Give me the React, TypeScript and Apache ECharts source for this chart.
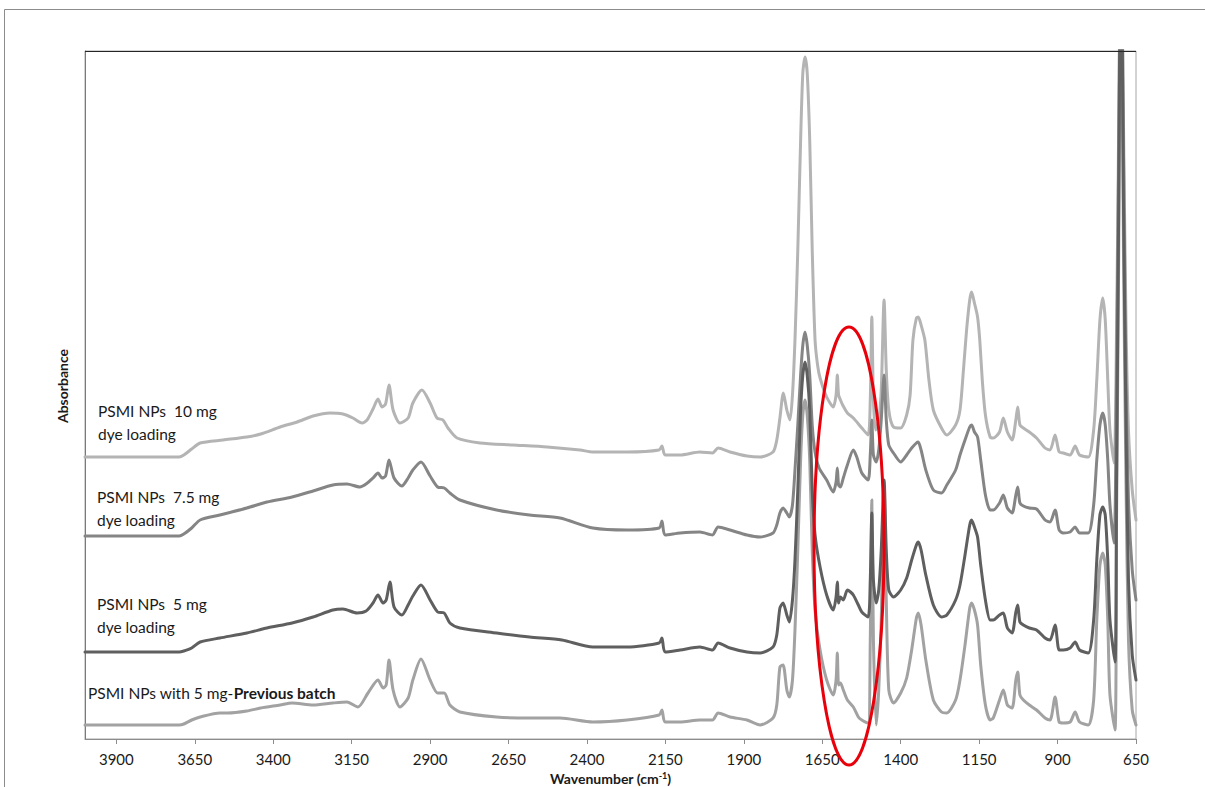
import React, { useEffect, useRef } from "react";
import * as echarts from "echarts";

// Wavenumber tick labels (cm-1)
const wavenumberTicks = [3900, 3650, 3400, 3150, 2900, 2650, 2400, 2150, 1900, 1650, 1400, 1150, 900, 650];

// [wavenumber (cm-1), absorbance (offset, a.u.)]
const psmi10mg: [number, number][] = [
  [4000, 0.564], [3900, 0.564], [3800, 0.564], [3700, 0.564], [3685, 0.568], [3660, 0.58], [3633, 0.592], [3560, 0.598], [3484, 0.604], [3440, 0.61],
  [3378, 0.624], [3324, 0.634], [3273, 0.646], [3219, 0.652], [3178, 0.65], [3146, 0.642], [3117, 0.632], [3101, 0.638], [3082, 0.66], [3066, 0.68],
  [3053, 0.664], [3042, 0.67], [3031, 0.708], [3018, 0.658], [2996, 0.632], [2970, 0.642], [2955, 0.672], [2926, 0.698], [2900, 0.672], [2878, 0.642],
  [2859, 0.638], [2843, 0.622], [2814, 0.602], [2741, 0.592], [2636, 0.588], [2527, 0.584], [2422, 0.578], [2381, 0.574], [2272, 0.574], [2170, 0.578],
  [2161, 0.586], [2151, 0.568], [2103, 0.568], [2040, 0.574], [2000, 0.572], [1982, 0.582], [1944, 0.574], [1890, 0.566], [1848, 0.564], [1807, 0.574],
  [1795, 0.598], [1785, 0.642], [1774, 0.692], [1763, 0.658], [1753, 0.638], [1745, 0.688], [1737, 0.798], [1728, 0.978], [1719, 1.198], [1712, 1.332],
  [1705, 1.364], [1698, 1.332], [1690, 1.198], [1682, 0.978], [1673, 0.798], [1665, 0.748], [1657, 0.722], [1636, 0.684], [1615, 0.664], [1606, 0.688],
  [1602, 0.728], [1598, 0.688], [1592, 0.678], [1585, 0.668], [1570, 0.652], [1551, 0.642], [1524, 0.622], [1504, 0.608], [1497, 0.678], [1492, 0.844],
  [1487, 0.678], [1480, 0.618], [1470, 0.638], [1462, 0.698], [1453, 0.878], [1446, 0.738], [1438, 0.658], [1423, 0.624], [1400, 0.622], [1381, 0.648],
  [1370, 0.688], [1361, 0.798], [1350, 0.842], [1344, 0.844], [1335, 0.828], [1323, 0.798], [1310, 0.718], [1296, 0.658], [1270, 0.622], [1253, 0.608],
  [1225, 0.628], [1211, 0.658], [1200, 0.738], [1190, 0.818], [1180, 0.878], [1174, 0.894], [1165, 0.872], [1155, 0.844], [1148, 0.798], [1140, 0.718],
  [1130, 0.648], [1115, 0.604], [1105, 0.602], [1085, 0.614], [1073, 0.642], [1060, 0.614], [1045, 0.598], [1033, 0.638], [1027, 0.664], [1020, 0.628],
  [1009, 0.622], [990, 0.614], [967, 0.602], [940, 0.582], [924, 0.578], [908, 0.608], [895, 0.574], [882, 0.572], [860, 0.568], [844, 0.586],
  [830, 0.568], [802, 0.564], [785, 0.618], [775, 0.718], [765, 0.838], [756, 0.882], [748, 0.838], [740, 0.718], [733, 0.618], [720, 0.552],
  [712, 0.818], [705, 1.238], [698, 1.678], [690, 1.238], [682, 0.838], [674, 0.618], [662, 0.498], [650, 0.438],
];

const psmi75mg: [number, number][] = [
  [4000, 0.406], [3900, 0.406], [3800, 0.406], [3700, 0.406], [3685, 0.41], [3660, 0.422], [3633, 0.438], [3570, 0.448], [3484, 0.462], [3420, 0.474],
  [3340, 0.484], [3273, 0.496], [3210, 0.508], [3165, 0.51], [3124, 0.504], [3100, 0.512], [3082, 0.522], [3066, 0.532], [3053, 0.522], [3042, 0.526],
  [3031, 0.558], [3015, 0.522], [2990, 0.506], [2970, 0.522], [2955, 0.538], [2929, 0.554], [2900, 0.526], [2876, 0.504], [2855, 0.502], [2837, 0.492],
  [2805, 0.478], [2688, 0.458], [2583, 0.448], [2486, 0.442], [2381, 0.422], [2272, 0.418], [2170, 0.422], [2161, 0.436], [2151, 0.408], [2103, 0.412],
  [2040, 0.414], [2000, 0.408], [1982, 0.424], [1944, 0.418], [1890, 0.408], [1848, 0.404], [1807, 0.412], [1795, 0.428], [1785, 0.452], [1775, 0.462],
  [1763, 0.452], [1755, 0.444], [1745, 0.468], [1737, 0.538], [1728, 0.628], [1719, 0.728], [1712, 0.788], [1705, 0.814], [1698, 0.788], [1690, 0.728],
  [1682, 0.628], [1673, 0.574], [1660, 0.542], [1636, 0.518], [1615, 0.494], [1606, 0.514], [1602, 0.542], [1598, 0.508], [1592, 0.504], [1583, 0.522],
  [1570, 0.548], [1551, 0.578], [1540, 0.564], [1524, 0.532], [1504, 0.518], [1497, 0.568], [1492, 0.638], [1487, 0.568], [1478, 0.554], [1470, 0.578],
  [1462, 0.638], [1453, 0.728], [1446, 0.638], [1438, 0.588], [1423, 0.572], [1400, 0.554], [1381, 0.568], [1365, 0.582], [1350, 0.592], [1344, 0.594],
  [1335, 0.578], [1320, 0.538], [1296, 0.498], [1270, 0.492], [1253, 0.508], [1225, 0.538], [1211, 0.568], [1195, 0.598], [1180, 0.624], [1174, 0.628],
  [1165, 0.614], [1155, 0.604], [1145, 0.558], [1130, 0.488], [1115, 0.458], [1105, 0.458], [1085, 0.472], [1073, 0.488], [1060, 0.462], [1045, 0.452],
  [1033, 0.488], [1027, 0.504], [1020, 0.472], [1009, 0.466], [990, 0.462], [967, 0.46], [940, 0.438], [924, 0.434], [908, 0.458], [895, 0.418],
  [882, 0.412], [860, 0.414], [844, 0.424], [830, 0.412], [802, 0.412], [785, 0.468], [775, 0.558], [765, 0.628], [756, 0.652], [748, 0.628],
  [740, 0.558], [733, 0.468], [720, 0.392], [712, 0.718], [705, 1.178], [698, 1.678], [690, 1.178], [682, 0.718], [674, 0.478], [662, 0.338],
  [650, 0.278],
];

const psmi5mg: [number, number][] = [
  [4000, 0.174], [3900, 0.174], [3800, 0.174], [3700, 0.174], [3685, 0.176], [3660, 0.182], [3633, 0.194], [3570, 0.202], [3484, 0.212], [3420, 0.222],
  [3340, 0.232], [3273, 0.244], [3210, 0.258], [3178, 0.26], [3133, 0.252], [3104, 0.256], [3082, 0.272], [3066, 0.288], [3050, 0.272], [3040, 0.278],
  [3028, 0.314], [3015, 0.264], [2990, 0.248], [2970, 0.268], [2955, 0.286], [2929, 0.308], [2900, 0.278], [2876, 0.254], [2855, 0.252], [2837, 0.232],
  [2805, 0.222], [2688, 0.212], [2583, 0.204], [2480, 0.198], [2381, 0.184], [2272, 0.184], [2170, 0.192], [2161, 0.202], [2151, 0.174], [2103, 0.178],
  [2040, 0.184], [2000, 0.178], [1982, 0.192], [1944, 0.182], [1890, 0.174], [1848, 0.172], [1807, 0.184], [1795, 0.208], [1785, 0.262], [1775, 0.272],
  [1763, 0.248], [1755, 0.234], [1745, 0.278], [1737, 0.358], [1728, 0.498], [1719, 0.658], [1712, 0.728], [1705, 0.754], [1698, 0.728], [1690, 0.658],
  [1682, 0.498], [1673, 0.408], [1657, 0.344], [1636, 0.288], [1615, 0.258], [1606, 0.284], [1602, 0.314], [1598, 0.272], [1592, 0.284], [1583, 0.278],
  [1570, 0.298], [1560, 0.294], [1551, 0.288], [1535, 0.268], [1524, 0.254], [1504, 0.244], [1497, 0.318], [1492, 0.452], [1487, 0.318], [1478, 0.272],
  [1470, 0.298], [1462, 0.378], [1453, 0.518], [1446, 0.378], [1438, 0.298], [1423, 0.284], [1400, 0.298], [1381, 0.322], [1365, 0.358], [1350, 0.388],
  [1344, 0.394], [1335, 0.378], [1320, 0.328], [1296, 0.268], [1270, 0.244], [1253, 0.248], [1225, 0.278], [1211, 0.308], [1195, 0.368], [1180, 0.428],
  [1174, 0.438], [1165, 0.424], [1155, 0.404], [1145, 0.348], [1130, 0.278], [1115, 0.238], [1105, 0.238], [1085, 0.248], [1073, 0.252], [1060, 0.222],
  [1045, 0.212], [1033, 0.254], [1027, 0.268], [1020, 0.234], [1009, 0.228], [990, 0.222], [967, 0.218], [940, 0.202], [924, 0.198], [908, 0.228],
  [895, 0.178], [882, 0.178], [860, 0.182], [844, 0.194], [830, 0.178], [802, 0.172], [785, 0.238], [775, 0.358], [765, 0.448], [756, 0.464],
  [748, 0.448], [740, 0.358], [733, 0.238], [717, 0.154], [712, 0.518], [705, 1.078], [698, 1.678], [690, 1.078], [682, 0.638], [674, 0.318],
  [662, 0.168], [650, 0.118],
];

const psmiPrevious: [number, number][] = [
  [4000, 0.028], [3900, 0.028], [3800, 0.028], [3700, 0.028], [3685, 0.03], [3660, 0.038], [3633, 0.044], [3570, 0.052], [3545, 0.052], [3484, 0.056],
  [3440, 0.062], [3378, 0.068], [3340, 0.072], [3273, 0.068], [3210, 0.072], [3165, 0.074], [3130, 0.064], [3098, 0.092], [3066, 0.118], [3050, 0.102],
  [3040, 0.108], [3031, 0.158], [3018, 0.098], [2996, 0.064], [2970, 0.082], [2955, 0.118], [2929, 0.16], [2900, 0.118], [2876, 0.092], [2855, 0.092],
  [2837, 0.068], [2805, 0.054], [2688, 0.044], [2583, 0.042], [2486, 0.042], [2381, 0.034], [2272, 0.038], [2170, 0.048], [2161, 0.058], [2151, 0.034],
  [2103, 0.034], [2040, 0.038], [2000, 0.038], [1982, 0.052], [1944, 0.044], [1890, 0.038], [1848, 0.028], [1807, 0.042], [1795, 0.068], [1785, 0.144],
  [1775, 0.148], [1763, 0.098], [1755, 0.084], [1745, 0.118], [1737, 0.218], [1728, 0.378], [1719, 0.558], [1712, 0.648], [1705, 0.678], [1698, 0.648],
  [1690, 0.558], [1682, 0.378], [1673, 0.258], [1657, 0.178], [1636, 0.118], [1615, 0.088], [1606, 0.118], [1602, 0.172], [1598, 0.108], [1592, 0.112],
  [1583, 0.098], [1570, 0.078], [1551, 0.064], [1535, 0.044], [1524, 0.038], [1504, 0.032], [1497, 0.198], [1492, 0.478], [1487, 0.198], [1478, 0.028],
  [1470, 0.098], [1462, 0.238], [1453, 0.508], [1446, 0.278], [1438, 0.098], [1423, 0.072], [1400, 0.092], [1381, 0.122], [1365, 0.178], [1350, 0.242],
  [1344, 0.252], [1335, 0.228], [1320, 0.158], [1296, 0.078], [1270, 0.054], [1253, 0.052], [1225, 0.078], [1211, 0.118], [1195, 0.188], [1180, 0.262],
  [1174, 0.272], [1165, 0.258], [1155, 0.228], [1145, 0.148], [1130, 0.068], [1115, 0.038], [1105, 0.042], [1085, 0.078], [1073, 0.098], [1060, 0.068],
  [1045, 0.062], [1033, 0.118], [1027, 0.134], [1020, 0.088], [1009, 0.078], [990, 0.068], [967, 0.058], [940, 0.042], [924, 0.038], [908, 0.084],
  [895, 0.034], [882, 0.032], [860, 0.034], [844, 0.054], [830, 0.034], [802, 0.028], [785, 0.078], [775, 0.238], [765, 0.348], [756, 0.372],
  [748, 0.348], [740, 0.238], [733, 0.088], [717, 0.018], [712, 0.438], [705, 0.978], [698, 1.678], [690, 0.978], [682, 0.518], [674, 0.198],
  [662, 0.058], [650, 0.028],
];

const FONT = 'Lato, "Open Sans", "Liberation Sans", sans-serif';

export default function App() {
  const ref = useRef<HTMLDivElement>(null);

  useEffect(() => {
    document.body.style.margin = "0";
    const chart = echarts.init(ref.current as HTMLDivElement, null, { renderer: "svg" });

    const line = (name: string, data: [number, number][], color: string, z: number) => ({
      name,
      type: "line",
      data,
      showSymbol: false,
      symbol: "none",
      clip: true,
      smooth: 0.25,
      z,
      lineStyle: { color, width: 3, join: "round", cap: "round" },
      emphasis: { disabled: true },
    });

    const label = (text: string, x: number, y: number) => ({
      type: "text",
      x,
      y,
      z: 50,
      style: { text, font: `15.5px ${FONT}`, fill: "#1a1a1a", align: "left", verticalAlign: "middle" },
    });

    chart.setOption({
      animation: false,
      backgroundColor: "#ffffff",
      grid: {
        left: 85,
        right: 69,
        top: 51,
        bottom: 48,
        show: true,
        borderColor: "#a6a6a6",
        borderWidth: 1,
        containLabel: false,
        outerBoundsMode: "none",
      },
      xAxis: {
        type: "value",
        min: 650,
        max: 4000,
        inverse: true,
        name: "{a|Wavenumber (cm}{s|-1}{a|)}",
        nameLocation: "middle",
        nameGap: 26,
        nameTextStyle: {
          rich: {
            a: { fontFamily: FONT, fontWeight: "bold", fontSize: 14, color: "#1a1a1a", lineHeight: 15, verticalAlign: "bottom" },
            s: { fontFamily: FONT, fontWeight: "bold", fontSize: 9, color: "#1a1a1a", lineHeight: 15, verticalAlign: "top" },
          },
        },
        axisLine: { show: true, lineStyle: { color: "#8c8c8c", width: 1 } },
        axisTick: { show: true, length: 5, lineStyle: { color: "#8c8c8c" }, customValues: wavenumberTicks },
        axisLabel: {
          show: true,
          customValues: wavenumberTicks,
          margin: 12,
          fontFamily: FONT,
          fontSize: 15,
          color: "#1a1a1a",
          formatter: (v: number) => String(v),
        },
        splitLine: { show: false },
      },
      yAxis: {
        type: "value",
        min: 0,
        max: 1.376,
        axisLine: { show: true, lineStyle: { color: "#7a7a7a", width: 1 } },
        axisTick: { show: false },
        axisLabel: { show: false },
        splitLine: { show: false },
      },
      series: [
        line("PSMI NPs 10 mg dye loading", psmi10mg, "#b4b4b4", 2),
        line("PSMI NPs with 5 mg-Previous batch", psmiPrevious, "#a2a2a2", 3),
        line("PSMI NPs 7.5 mg dye loading", psmi75mg, "#858585", 4),
        line("PSMI NPs 5 mg dye loading", psmi5mg, "#5f5f5f", 5),
      ],
      graphic: [
        {
          type: "rect",
          z: 1,
          shape: { x: 4.5, y: 9.5, width: 1400, height: 1000 },
          style: { fill: "none", stroke: "#8c8c8c", lineWidth: 1 },
        },
        {
          type: "line",
          z: 60,
          shape: { x1: 85, y1: 51.5, x2: 1136, y2: 51.5 },
          style: { stroke: "#262626", lineWidth: 1 },
        },
        {
          type: "text",
          x: 62,
          y: 386,
          rotation: Math.PI / 2,
          z: 50,
          style: { text: "Absorbance", font: `bold 14px ${FONT}`, fill: "#1a1a1a", align: "center", verticalAlign: "middle" },
        },
        label("PSMI NPs  10 mg", 98, 411),
        label("dye loading", 98, 434),
        label("PSMI NPs  7.5 mg", 97, 497),
        label("dye loading", 97, 520),
        label("PSMI NPs  5 mg", 97, 604),
        label("dye loading", 97, 627),
        {
          type: "text",
          x: 88,
          y: 693,
          z: 50,
          style: {
            text: "{n|PSMI NPs with 5 mg-}{b|Previous batch}",
            align: "left",
            verticalAlign: "middle",
            rich: {
              n: { font: `15.5px ${FONT}`, fill: "#1a1a1a" },
              b: { font: `bold 15.5px ${FONT}`, fill: "#1a1a1a" },
            },
          },
        },
        {
          type: "ellipse",
          z: 100,
          shape: { cx: 849, cy: 546, rx: 35, ry: 219 },
          style: { fill: "none", stroke: "#e8000b", lineWidth: 3 },
        },
      ],
    });

    return () => chart.dispose();
  }, []);

  return <div ref={ref} style={{ width: 1205, height: 787 }} />;
}
